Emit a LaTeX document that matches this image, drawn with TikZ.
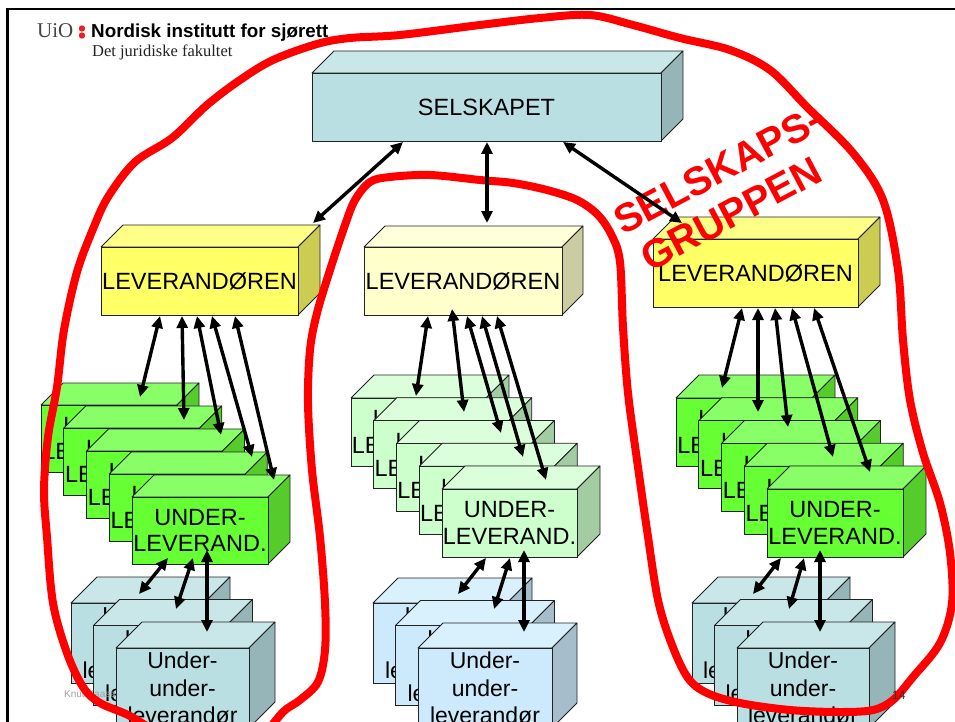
\documentclass[tikz,border=0pt]{standalone}
\usepackage{fontspec}
\setmainfont{Liberation Sans}
\newfontfamily\serifUi{Liberation Serif}
\usetikzlibrary{arrows.meta}
\definecolor{edge}{HTML}{222222}
\definecolor{cyF}{HTML}{B9DFE3}
\definecolor{cyT}{HTML}{C9E6E9}
\definecolor{cyS}{HTML}{96B5B8}
\definecolor{pbF}{HTML}{CCEAFC}
\definecolor{pbT}{HTML}{D9F0FD}
\definecolor{pbS}{HTML}{A6BDCB}
\definecolor{yeF}{HTML}{FFFF66}
\definecolor{yeT}{HTML}{FFFF88}
\definecolor{yeS}{HTML}{CCCC52}
\definecolor{pyF}{HTML}{FFFFCC}
\definecolor{pyT}{HTML}{FFFFDA}
\definecolor{pyS}{HTML}{CCCCA3}
\definecolor{grF}{HTML}{66FF33}
\definecolor{grT}{HTML}{88FF66}
\definecolor{grS}{HTML}{55CC2B}
\definecolor{pgF}{HTML}{CCFFCC}
\definecolor{pgT}{HTML}{DAFFDA}
\definecolor{pgS}{HTML}{A3CCA3}
\definecolor{uiogray}{HTML}{444444}
\definecolor{uiored}{HTML}{E8202A}
\definecolor{footgray}{HTML}{A0A0A0}
\definecolor{pagegray}{HTML}{333333}
\definecolor{penred}{HTML}{FF0000}
% name, x, y, w, h, depth, colour prefix, font style, text
\newcommand\cub[9]{%
  \filldraw[#7T, draw=edge, line width=0.8pt, line join=round] (#2,#3) -- ++(#6,-#6) -- ++(#4,0) -- ++(-#6,#6) -- cycle;
  \filldraw[#7S, draw=edge, line width=0.8pt, line join=round] ({#2+#4},#3) -- ++(#6,-#6) -- ++(0,#5) -- ++(-#6,#6) -- cycle;
  \node[cubeface, #8, fill=#7F, minimum width=#4pt, minimum height=#5pt] (#1) at ({#2+#4/2},{#3+#5/2}) {#9};
}
\newcommand\link[3]{%
  \coordinate (#1-s) at (#2);
  \coordinate (#1-e) at (#3);
  \draw[dbl] (#1-s) -- (#1-e);
}
\begin{document}
\begin{tikzpicture}[x=1pt,y=-1pt,
  cubeface/.style={draw=edge, line width=0.8pt, inner sep=0pt, align=center},
  fa/.style={font=\fontsize{23.5}{26.5}\selectfont},
  fb/.style={font=\fontsize{23}{27.5}\selectfont},
  dbl/.style={line width=3.4pt, {Triangle[length=12pt,width=11pt]}-{Triangle[length=12pt,width=11pt]}},
  redtxt/.style={text=penred, font=\bfseries\fontsize{40}{40}\selectfont, inner sep=0pt, rotate=28},
  hdr/.style={anchor=base west, inner sep=0pt}]
\useasboundingbox (0,0) rectangle (955,722);
\clip (0,0) rectangle (955,722);
\fill[white] (0,0) rectangle (955,722);

% slide frame
\draw[line width=2.5pt] (7.5,730) -- (7.5,9) -- (965,9);

% header
\node[hdr, text=uiogray, font=\serifUi\fontsize{21}{21}\selectfont] (uio) at (37,38) {UiO};
\fill[uiored] (82,28.5) circle[radius=3.2pt];
\fill[uiored] (82,35.5) circle[radius=3.2pt];
\node[hdr, font=\bfseries\fontsize{18.8}{19}\selectfont] (nis) at (91,37.5) {Nordisk institutt for sjørett};
\node[hdr, text=edge, font=\serifUi\fontsize{16.5}{17}\selectfont] (fak) at (92,57) {Det juridiske fakultet};

% top level
\cub{sel}{312}{73}{349}{68}{22}{cy}{fa}{SELSKAPET}
\cub{levl}{101}{247}{197}{68}{22}{ye}{fa}{LEVERANDØREN}
\cub{levm}{364}{247}{198}{68}{21}{py}{fa}{LEVERANDØREN}
\cub{levr}{653}{239}{205}{68}{22}{ye}{fa}{LEVERANDØREN}

% green stacks
\foreach \i in {0,...,4}{
  \pgfmathsetmacro\xx{41+22.75*\i}
  \pgfmathsetmacro\yy{405+23*\i}
  \cub{gl\i}{\xx}{\yy}{136}{67}{22}{gr}{fa}{UNDER-\\LEVERAND.}
}
\foreach \i in {0,...,4}{
  \pgfmathsetmacro\xx{351+22.75*\i}
  \pgfmathsetmacro\yy{398+22.75*\i}
  \cub{gm\i}{\xx}{\yy}{135}{68}{23}{pg}{fa}{UNDER-\\LEVERAND.}
}
\foreach \i in {0,...,4}{
  \pgfmathsetmacro\xx{676+22.75*\i}
  \pgfmathsetmacro\yy{398+22.75*\i}
  \cub{gr\i}{\xx}{\yy}{136}{68}{23}{gr}{fa}{UNDER-\\LEVERAND.}
}

% blue stacks
\cub{bl0}{71}{603}{133}{80}{26}{cy}{fb}{Under-\\under-\\leverandør}
\cub{bl1}{93.5}{625.5}{133}{80}{26}{cy}{fb}{Under-\\under-\\leverandør}
\node[anchor=west, inner sep=0pt, text=footgray, font=\fontsize{10}{10}\selectfont] (foot) at (64,694) {Knut Kaasen};
\cub{bl2}{116}{648}{133}{80}{26}{cy}{fb}{Under-\\under-\\leverandør}
\foreach \i in {0,1,2}{
  \pgfmathsetmacro\xx{373+22.5*\i}
  \pgfmathsetmacro\yy{603+22.5*\i}
  \cub{bm\i}{\xx}{\yy}{134}{80}{25}{pb}{fb}{Under-\\under-\\leverandør}
}
\foreach \i in {0,1,2}{
  \pgfmathsetmacro\xx{692+22.5*\i}
  \pgfmathsetmacro\yy{603+22.5*\i}
  \cub{br\i}{\xx}{\yy}{132}{80}{26}{cy}{fb}{Under-\\under-\\leverandør}
}

% red hand-drawn loop
\draw[penred, line width=8pt, line cap=round, line join=round]
  plot[smooth, tension=0.55] coordinates {
  (165,738) (130,716) (100,703) (83,687) (67,653) (53,603) (47,537) (44,490)
  (48,437) (57,387) (64,330) (77,272) (93,229) (108,197) (135,162) (172,138)
  (207,105) (240,80) (273,60) (317,44) (350,38) (400,35) (480,25) (540,18)
  (590,15) (633,25) (680,38) (730,50) (770,70) (807,107) (853,153) (883,200)
  (898,270) (903,340) (910,400) (923,453) (940,503) (950,553) (952,603)
  (940,643) (913,677) (893,700) (873,710) (840,712) (790,710) (740,703)
  (707,693) (688,678) (672,645) (658,600) (647,530) (637,460) (628,393)
  (623,327) (620,262) (612,236) (598,215) (577,200) (547,190) (513,183)
  (480,180) (430,175) (390,177) (370,182) (355,200) (345,225) (330,270)
  (317,313) (310,350) (308,403) (312,470) (320,537) (325,603) (325,650)
  (318,682) (300,700) (283,712) (262,738)};
\node[redtxt] (sg1) at (718,170) {SELSKAPS-};
\node[redtxt] (sg2) at (731,214) {GRUPPEN};

% connectors
\link{s1}{403,142}{313,223}
\link{s2}{487,142}{487,223}
\link{s3}{563,142}{682,223}

\link{l1}{160,316}{140,397}
\link{l2}{182,316}{184,420}
\link{l3}{197,316}{221,435}
\link{l4}{212,316}{252,457}
\link{l5}{235,316}{274,480}

\link{m1}{428,316}{416,396}
\link{m2}{452,309}{464,412}
\link{m3}{467,316}{501,433}
\link{m4}{482,316}{523,457}
\link{m5}{497,316}{546,480}

\link{r1}{742,308}{722,388}
\link{r2}{758,308}{758,412}
\link{r3}{775,308}{788,427}
\link{r4}{792,308}{833,457}
\link{r5}{814,308}{870,472}

\link{ul1}{168,558}{139,594}
\link{ul2}{193,558}{176,609}
\link{ul3}{207,550}{207,632}
\link{um1}{486,558}{458,594}
\link{um2}{510,558}{494,609}
\link{um3}{524,550}{524,632}
\link{ur1}{781,558}{753,594}
\link{ur2}{804,558}{789,609}
\link{ur3}{820,550}{820,632}

\node[anchor=west, inner sep=0pt, text=pagegray, font=\fontsize{12}{12}\selectfont] (page) at (892,695) {14};
\end{tikzpicture}
\end{document}
